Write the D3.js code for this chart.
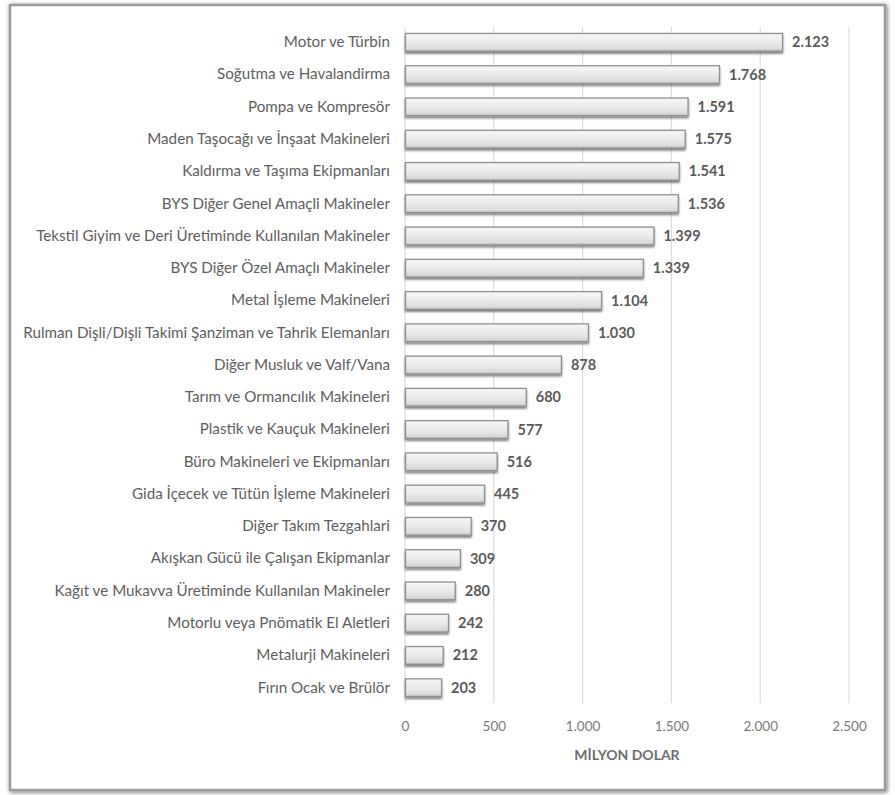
<!DOCTYPE html>
<html>
<head>
<meta charset="utf-8">
<script src="https://cdn.jsdelivr.net/npm/d3@7"></script>
<style>
  html, body { margin: 0; padding: 0; background: #ffffff; }
  svg { display: block; }
</style>
</head>
<body>
<svg id="chart" width="895" height="795"></svg>
<script>
// Machinery categories (top to bottom) and their values in million USD
const categories = [
  "Motor ve Türbin",
  "Soğutma ve Havalandirma",
  "Pompa ve Kompresör",
  "Maden Taşocağı ve İnşaat Makineleri",
  "Kaldırma ve Taşıma Ekipmanları",
  "BYS Diğer Genel Amaçli Makineler",
  "Tekstil Giyim ve Deri Üretiminde Kullanılan Makineler",
  "BYS Diğer Özel Amaçlı Makineler",
  "Metal İşleme Makineleri",
  "Rulman Dişli/Dişli Takimi Şanziman ve Tahrik Elemanları",
  "Diğer Musluk ve Valf/Vana",
  "Tarım ve Ormancılık Makineleri",
  "Plastik ve Kauçuk Makineleri",
  "Büro Makineleri ve Ekipmanları",
  "Gida İçecek ve Tütün İşleme Makineleri",
  "Diğer Takım Tezgahlari",
  "Akışkan Gücü ile Çalışan Ekipmanlar",
  "Kağıt ve Mukavva Üretiminde Kullanılan Makineler",
  "Motorlu veya Pnömatik El Aletleri",
  "Metalurji Makineleri",
  "Fırın Ocak ve Brülör"
];
const values = [2123, 1768, 1591, 1575, 1541, 1536, 1399, 1339, 1104, 1030,
                878, 680, 577, 516, 445, 370, 309, 280, 242, 212, 203];
const xTicks = [0, 500, 1000, 1500, 2000, 2500];
const axisTitle = "MİLYON DOLAR";

const data = categories.map((c, i) => ({ name: c, value: values[i] }));

const trLocale = d3.formatLocale({ decimal: ",", thousands: ".", grouping: [3], currency: ["", " $"] });
const fmt = trLocale.format(",d");

const svg = d3.select("#chart");
const fontFamily = "Lato, 'Open Sans', 'DejaVu Sans', sans-serif";

const defs = svg.append("defs");

// soft shadow for the outer frame
const frameShadow = defs.append("filter").attr("id", "frameShadow")
  .attr("x", "-5%").attr("y", "-5%").attr("width", "110%").attr("height", "110%");
frameShadow.append("feGaussianBlur").attr("in", "SourceAlpha").attr("stdDeviation", 2).attr("result", "b");
frameShadow.append("feOffset").attr("in", "b").attr("dx", 1).attr("dy", 1).attr("result", "o");
frameShadow.append("feComponentTransfer").attr("in", "o").attr("result", "s")
  .append("feFuncA").attr("type", "linear").attr("slope", 0.6);
const fm = frameShadow.append("feMerge");
fm.append("feMergeNode").attr("in", "s");
fm.append("feMergeNode").attr("in", "SourceGraphic");

// drop shadow under the bars
const barShadow = defs.append("filter").attr("id", "barShadow")
  .attr("x", "-5%").attr("y", "-30%").attr("width", "115%").attr("height", "180%");
barShadow.append("feGaussianBlur").attr("in", "SourceAlpha").attr("stdDeviation", 1.2).attr("result", "b");
barShadow.append("feOffset").attr("in", "b").attr("dx", 0).attr("dy", 2).attr("result", "o");
barShadow.append("feComponentTransfer").attr("in", "o").attr("result", "s")
  .append("feFuncA").attr("type", "linear").attr("slope", 0.5);
const bm = barShadow.append("feMerge");
bm.append("feMergeNode").attr("in", "s");
bm.append("feMergeNode").attr("in", "SourceGraphic");

// bevelled light-grey bar fill
const grad = defs.append("linearGradient").attr("id", "barFill")
  .attr("x1", 0).attr("y1", 0).attr("x2", 0).attr("y2", 1);
grad.append("stop").attr("offset", "0%").attr("stop-color", "#f6f6f6");
grad.append("stop").attr("offset", "45%").attr("stop-color", "#ececec");
grad.append("stop").attr("offset", "85%").attr("stop-color", "#dcdcdc");
grad.append("stop").attr("offset", "100%").attr("stop-color", "#c4c4c4");

// outer frame
svg.append("rect")
  .attr("x", 10).attr("y", 5).attr("width", 875).attr("height", 785)
  .attr("fill", "#ffffff").attr("stroke", "#9a9a9a").attr("stroke-width", 2.5)
  .attr("filter", "url(#frameShadow)");

const margin = { left: 405, right: 46, top: 27, bottom: 92 };
const width = 895 - margin.left - margin.right;
const height = 795 - margin.top - margin.bottom;

const g = svg.append("g").attr("transform", `translate(${margin.left},${margin.top})`);

const x = d3.scaleLinear().domain([0, 2500]).range([0, width]);
const y = d3.scaleBand().domain(categories).range([0, height]).paddingInner(0.45).paddingOuter(0.2);

// vertical gridlines
g.append("g").selectAll("line").data(xTicks).join("line")
  .attr("x1", d => x(d)).attr("x2", d => x(d))
  .attr("y1", 0).attr("y2", height)
  .attr("stroke", "#dcdcdc").attr("stroke-width", 1.2);

// x axis tick labels
const xAxis = d3.axisBottom(x).tickValues(xTicks).tickFormat(fmt).tickSize(0).tickPadding(18);
const xa = g.append("g").attr("transform", `translate(0,${height})`).call(xAxis);
xa.select(".domain").remove();
xa.selectAll("text").attr("fill", "#7a7a7a").attr("font-size", 13.5).attr("font-family", fontFamily);

// axis title
g.append("text")
  .attr("x", width / 2).attr("y", height + 57)
  .attr("text-anchor", "middle")
  .attr("fill", "#6e6e6e").attr("font-size", 14).attr("font-weight", "bold")
  .attr("font-family", fontFamily)
  .text(axisTitle);

// category labels
const yAxis = d3.axisLeft(y).tickSize(0).tickPadding(15);
const ya = g.append("g").call(yAxis);
ya.select(".domain").remove();
ya.selectAll("text").attr("fill", "#5e5e5e").attr("font-size", 15.2).attr("font-family", fontFamily);

// bars
g.append("g").selectAll("rect").data(data).join("rect")
  .attr("x", x(0) + 0.5)
  .attr("y", d => y(d.name))
  .attr("width", d => x(d.value) - x(0))
  .attr("height", y.bandwidth())
  .attr("fill", "url(#barFill)")
  .attr("stroke", "#8f8f8f").attr("stroke-width", 1.3)
  .attr("filter", "url(#barShadow)");

// value labels
g.append("g").selectAll("text").data(data).join("text")
  .attr("x", d => x(d.value) + 10)
  .attr("y", d => y(d.name) + y.bandwidth() / 2)
  .attr("dy", "0.35em")
  .attr("fill", "#5a5a5a").attr("font-size", 14.5).attr("font-weight", "bold")
  .attr("font-family", fontFamily)
  .text(d => fmt(d.value));
</script>
</body>
</html>
